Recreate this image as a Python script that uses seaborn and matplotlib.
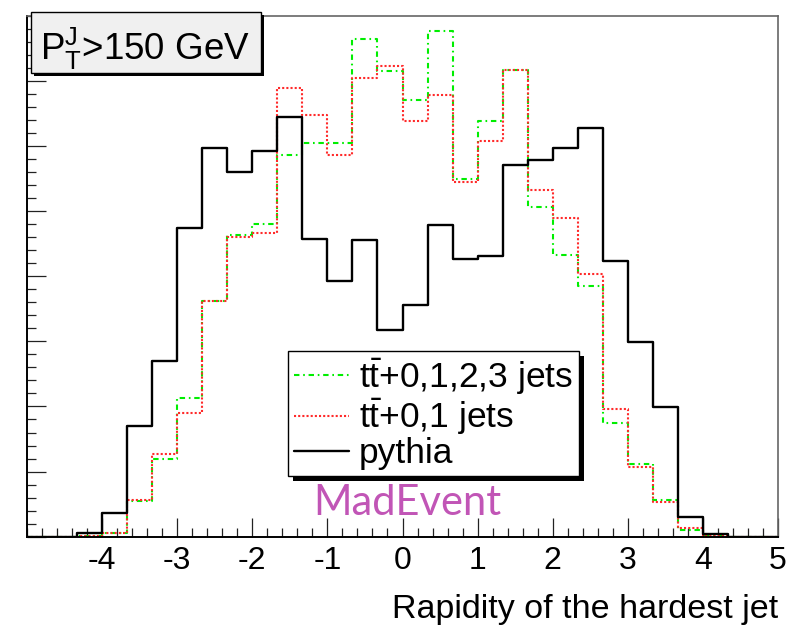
import numpy as np
import pandas as pd
import matplotlib
matplotlib.use("Agg")
import matplotlib.pyplot as plt
import seaborn as sns
from matplotlib.lines import Line2D
from matplotlib.patches import Rectangle
from matplotlib.transforms import IdentityTransform
from matplotlib.ticker import MultipleLocator

# ---------------- data ----------------
bin_edges = list(np.linspace(-5, 5, 31))          # 30 bins of width 1/3
bin_centers = [0.5 * (a + b) for a, b in zip(bin_edges[:-1], bin_edges[1:])]

tt0123_jets = [0, 0, 0.01, 0.05, 0.55, 1.20, 2.13, 3.62, 4.63, 4.80,
               5.86, 6.04, 6.04, 7.64, 7.15, 6.71, 7.77, 5.49, 6.39, 7.17,
               5.06, 4.33, 3.85, 1.74, 1.12, 0.56, 0.11, 0.02, 0, 0]
tt01_jets = [0, 0, 0.01, 0.05, 0.57, 1.27, 1.90, 3.62, 4.60, 4.67,
             6.89, 6.48, 5.86, 7.04, 7.22, 6.39, 6.79, 5.45, 6.08, 7.17,
             5.32, 4.89, 4.04, 1.96, 1.07, 0.53, 0.14, 0.01, 0, 0]
pythia = [0, 0, 0.06, 0.37, 1.70, 2.70, 4.74, 5.97, 5.60, 5.93,
          6.45, 4.57, 3.93, 4.56, 3.17, 3.56, 4.78, 4.26, 4.31, 5.71,
          5.78, 5.97, 6.28, 4.24, 2.99, 1.99, 0.31, 0.04, 0, 0]

series_labels = [r"$\mathregular{t\bar{t}}$+0,1,2,3 jets",
                 r"$\mathregular{t\bar{t}}$+0,1 jets",
                 "pythia"]
x_tick_values = [-4, -3, -2, -1, 0, 1, 2, 3, 4, 5]
y_major_ticks = [0, 1, 2, 3, 4, 5, 6, 7, 8]

df = pd.DataFrame({
    "rapidity": bin_centers * 3,
    "weight": tt0123_jets + tt01_jets + pythia,
    "series": np.repeat(series_labels, len(bin_centers)),
})

# ---------------- style ----------------
sns.set_theme(style="white")
plt.rcParams["font.family"] = ["Liberation Sans", "DejaVu Sans"]
plt.rcParams["mathtext.fontset"] = "custom"
plt.rcParams["mathtext.rm"] = "Liberation Sans"
plt.rcParams["mathtext.it"] = "Liberation Sans:italic"
plt.rcParams["mathtext.bf"] = "Liberation Sans:bold"
plt.rcParams["text.color"] = "black"

green = "#00ee00"
red = "#ff2a2a"
black = "#000000"
styles = {
    series_labels[0]: dict(color=green, linestyle=(0, (2.6, 1.8, 0.8, 1.8)), linewidth=1.5),
    series_labels[1]: dict(color=red, linestyle=(0, (1, 1)), linewidth=1.5),
    series_labels[2]: dict(color=black, linestyle="-", linewidth=1.7),
}

fig = plt.figure(figsize=(7.91, 6.25), dpi=100)
fig.patch.set_facecolor("white")
ax = fig.add_axes([27 / 791, 1 - 536.7 / 625, 751 / 791, 521 / 625])

for lab in series_labels:
    sub = df[df["series"] == lab]
    sns.histplot(data=sub, x="rapidity", weights="weight", bins=bin_edges,
                 element="step", fill=False, ax=ax, **styles[lab])

ax.set_xlim(-5, 5)
ax.set_ylim(0, 8)
ax.set_ylabel("")
ax.grid(False)

ax.set_xticks(x_tick_values)
ax.set_xticklabels([str(v) for v in x_tick_values])
ax.xaxis.set_minor_locator(MultipleLocator(0.2))
ax.set_yticks(y_major_ticks)
ax.set_yticklabels([])
ax.yaxis.set_minor_locator(MultipleLocator(0.2))
ax.tick_params(which="both", direction="in", bottom=True, left=True,
               top=False, right=False, color="#222222", width=0.9)
ax.tick_params(which="major", length=13.5)
ax.tick_params(which="minor", length=6.5)
ax.tick_params(axis="x", labelsize=23, pad=7, labelcolor="black")

for s in ["left", "bottom"]:
    ax.spines[s].set_color("black")
    ax.spines[s].set_linewidth(1.4)
for s in ["top", "right"]:
    ax.spines[s].set_color("#666666")
    ax.spines[s].set_linewidth(1.2)

ax.set_xlabel("Rapidity of the hardest jet", fontsize=24.5, loc="right",
              va="baseline", color="black")
ax.xaxis.set_label_coords(1.0, -(618 - 536.7) / 521)

# legend
handles = [Line2D([], [], **styles[lab]) for lab in series_labels]
leg = ax.legend(handles, series_labels, loc="upper left",
                bbox_to_anchor=(0.348, 0.357), fontsize=25.5, frameon=True,
                fancybox=False, shadow=False,
                edgecolor="black", framealpha=1, borderpad=0.15,
                labelspacing=0.0, handlelength=1.55, handletextpad=0.3,
                borderaxespad=0)
leg.get_frame().set_linewidth(1.0)
leg.set_zorder(6)

# title box with shadow
fig.add_artist(Rectangle((34 / 791, 1 - 76.3 / 625), (263.7 - 34) / 791,
                         (76.3 - 15.3) / 625, transform=fig.transFigure,
                         facecolor="black", edgecolor="none", zorder=3))
fig.add_artist(Rectangle((31 / 791, 1 - 73.3 / 625), (260.7 - 31) / 791,
                         (73.3 - 12.3) / 625, transform=fig.transFigure,
                         facecolor="#f0f0f0", edgecolor="black", lw=1.0, zorder=4))
fig.text(40 / 791, 1 - 60 / 625, r"$\mathregular{P_T^J}$>150 GeV",
         fontsize=26.5, ha="left", va="baseline", color="black", zorder=5)

fig.text(313 / 791, 1 - 515 / 625, "MadEvent", fontsize=30, family="Lato",
         color="#c155b6", ha="left", va="baseline", zorder=5)

# solid black shadow behind the legend frame (offset right/down)
fig.canvas.draw()
bb = leg.get_frame().get_window_extent()
off = 5
ax.add_patch(Rectangle((bb.x0 + off, bb.y0 - off), bb.width, bb.height,
                       transform=IdentityTransform(), facecolor="black",
                       edgecolor="none", zorder=5.5, clip_on=False))

fig.savefig("out.png", dpi=100, facecolor="white")
